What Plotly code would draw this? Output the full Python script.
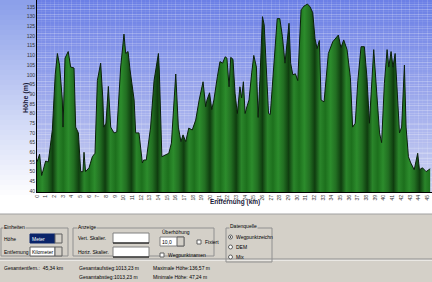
import plotly.graph_objects as go

# ---------------- data ----------------
dist_km = [0.0, 0.3, 0.54, 0.8, 1.0, 1.3, 1.77, 2.1, 2.35, 2.6, 2.92, 3.0, 3.23, 3.6, 3.88,
           4.27, 4.46, 4.77, 5.04, 5.3, 5.42, 5.6, 6.0, 6.38, 6.69, 6.96, 7.34, 7.6, 7.7,
           7.95, 8.23, 8.5, 8.88, 9.2, 9.65, 10.03, 10.23, 10.5, 10.73, 11.2, 11.38, 11.76,
           12.15, 12.3, 12.6, 13.1, 13.5, 14.0, 14.1, 14.4, 14.8, 15.2, 15.5, 16.0, 16.3,
           16.6, 16.84, 17.15, 17.5, 17.9, 18.3, 18.7, 19.15, 19.45, 19.6, 19.9, 20.15,
           20.4, 20.8, 21.1, 21.4, 21.7, 21.9, 22.15, 22.34, 22.6, 22.84, 23.1, 23.4, 23.6,
           23.8, 24.0, 24.2, 24.45, 24.76, 25.0, 25.3, 25.5, 25.7, 26.0, 26.2, 26.4, 26.7,
           26.9, 27.3, 27.7, 28.0, 28.3, 28.6, 29.06, 29.25, 29.5, 29.8, 30.07, 30.45, 30.8,
           31.2, 31.5, 31.8, 32.06, 32.3, 32.56, 32.76, 33.1, 33.6, 34.1, 34.75, 35.05,
           35.37, 35.75, 36.14, 36.4, 36.7, 37.0, 37.37, 37.75, 38.05, 38.33, 38.83, 39.1,
           39.5, 39.74, 40.06, 40.37, 40.57, 40.83, 41.05, 41.3, 41.5, 41.8, 42.05, 42.37,
           42.56, 42.83, 43.1, 43.5, 43.9, 44.1, 44.45, 44.87, 45.34]
elev_m = [55, 59, 48, 53, 55.5, 55, 71.5, 100, 111, 105, 87, 73, 108.6, 112, 104,
          103.5, 73, 70, 50, 50, 60, 50, 52, 57.7, 59.5, 97, 106, 87, 73,
          75, 94, 73, 70, 70.5, 104, 121, 111, 112, 102.5, 87, 70, 70,
          54.5, 56, 56, 73, 97, 111, 102.5, 57.7, 58.5, 59.5, 64.7, 100.4, 73,
          65.5, 69, 65.5, 72.5, 71.5, 76.6, 87, 96.4, 83.5, 87, 90.7, 82,
          87, 99, 106.8, 106, 109.3, 108.6, 93.8, 109, 108, 90.5, 80, 93.8, 88,
          96.4, 80, 83.5, 87, 101, 110, 104, 78, 97, 130, 125.7, 104, 80,
          79.5, 104, 129, 129, 119.7, 106, 126.6, 106, 100, 100.5, 97, 133.5, 135.5,
          136.5, 135, 132, 118.6, 113.5, 117.7, 87, 86, 111, 117, 120.5, 114,
          118, 113, 98.5, 73, 75, 97, 114.5, 114.5, 98.5, 75, 113, 95.6,
          70, 65, 95.6, 113, 104, 112, 104, 111, 94, 70, 73, 105,
          73, 57.7, 54.5, 51, 59.5, 51, 52, 50, 51.5]

y_ticks = list(range(40, 136, 5))
x_ticks = list(range(0, 46))
y_title = "Höhe (m)"
x_title = "Entfernung (km)"

W, H = 432, 282
L, T, B = 37, 0, 90
PW, PH = W - L, H - T - B


def px(x):
    return (x - L) / PW


def py(y):
    return (T + PH - y) / PH


fig = go.Figure()

# striped green fill
stripe = []
n = 75
cyc = ['#1d701d', '#2c8c2c', '#226f22', '#0f3d0f', '#2a852a']
for i in range(n + 1):
    stripe.append([i / n, cyc[i % len(cyc)]])

fig.add_trace(go.Scatter(
    x=dist_km, y=elev_m, mode='lines', fill='tozeroy',
    line=dict(color='#0a200a', width=1),
    fillcolor='#1f7a1f',
    fillgradient=dict(type='horizontal', colorscale=stripe),
    hoverinfo='skip', showlegend=False))

shapes = []
# plot background gradient
steps = 40
top = (108, 128, 230)
bot = (205, 210, 242)
for i in range(steps):
    f = i / (steps - 1)
    c = tuple(int(top[k] + (bot[k] - top[k]) * f) for k in range(3))
    shapes.append(dict(type='rect', xref='x domain', yref='y domain', layer='below',
                       x0=0, x1=1, y0=1 - i / steps, y1=1 - (i + 1) / steps,
                       line=dict(width=0), fillcolor='rgb(%d,%d,%d)' % c))
# left margin gradient
ltop = (140, 160, 234)
lbot = (255, 255, 255)
for i in range(steps):
    f = i / (steps - 1)
    c = tuple(int(ltop[k] + (lbot[k] - ltop[k]) * f) for k in range(3))
    y0p = i * 200 / steps
    y1p = (i + 1) * 200 / steps
    shapes.append(dict(type='rect', xref='paper', yref='paper', layer='below',
                       x0=px(0), x1=px(L), y0=py(y0p), y1=py(y1p),
                       line=dict(width=0), fillcolor='rgb(%d,%d,%d)' % c))

GRAY = '#d4d0c8'
# bottom panel
shapes.append(dict(type='rect', xref='paper', yref='paper', x0=px(0), x1=px(W), y0=py(214), y1=py(H),
                   line=dict(width=0), fillcolor=GRAY))
shapes.append(dict(type='line', xref='paper', yref='paper', x0=px(0), x1=px(W), y0=py(214), y1=py(214),
                   line=dict(color='#a0a0a0', width=1)))
shapes.append(dict(type='line', xref='paper', yref='paper', x0=px(0), x1=px(W), y0=py(260), y1=py(260),
                   line=dict(color='#ffffff', width=1)))
shapes.append(dict(type='line', xref='paper', yref='paper', x0=px(0), x1=px(W), y0=py(259), y1=py(259),
                   line=dict(color='#909090', width=1)))


def box(x0, y0, x1, y1, fill=None, color='#909090', w=1):
    shapes.append(dict(type='rect', xref='paper', yref='paper', x0=px(x0), x1=px(x1),
                       y0=py(y0), y1=py(y1), line=dict(color=color, width=w),
                       fillcolor=fill if fill else 'rgba(0,0,0,0)'))


# group boxes
box(1, 228, 68, 256)
box(73, 228, 214, 256)
box(226, 228, 272, 262)
# dropdowns
box(30, 234, 55, 243, fill='#0a246a', color='#0a246a')
box(55, 234, 62, 243, fill=GRAY, color='#606060')
box(30, 247, 55, 256, fill='#ffffff', color='#606060')
box(55, 247, 62, 256, fill=GRAY, color='#606060')
# text boxes
box(113, 233, 149, 243, fill='#ffffff', color='#808080')
box(113, 247, 149, 257, fill='#ffffff', color='#808080')
shapes.append(dict(type='line', xref='paper', yref='paper', x0=px(113), x1=px(149), y0=py(243), y1=py(243),
                   line=dict(color='#000000', width=1)))
shapes.append(dict(type='line', xref='paper', yref='paper', x0=px(113), x1=px(149), y0=py(257), y1=py(257),
                   line=dict(color='#000000', width=1)))
# spin box
box(160, 237, 184, 246, fill='#ffffff', color='#808080')
box(177, 237, 184, 246, fill=GRAY, color='#606060')
# checkboxes
box(197, 240, 201, 244, fill='#ffffff', color='#606060')
box(160, 253, 164, 257, fill='#ffffff', color='#606060')
# radio buttons
for ry in (237, 247, 257):
    shapes.append(dict(type='circle', xref='paper', yref='paper', x0=px(228.5), x1=px(232.5),
                       y0=py(ry - 2), y1=py(ry + 2), line=dict(color='#606060', width=1),
                       fillcolor='#ffffff'))
shapes.append(dict(type='circle', xref='paper', yref='paper', x0=px(229.8), x1=px(231.2),
                   y0=py(236.3), y1=py(237.7), line=dict(width=0), fillcolor='#000000'))

ann = []


def text(x, y, s, size=5, color='#000000', bg=None, bold=False, anchor='left'):
    ann.append(dict(xref='paper', yref='paper', x=px(x), y=py(y), text=('<b>%s</b>' % s) if bold else s,
                    showarrow=False, xanchor=anchor, yanchor='middle',
                    font=dict(family='Liberation Sans, Arial', size=size, color=color),
                    bgcolor=bg, borderpad=0))


text(3, 227, 'Einheiten', bg=GRAY)
text(3, 238.5, 'Höhe')
text(31, 238.5, 'Meter', color='#ffffff')
text(3, 251.5, 'Entfernung')
text(31, 251.5, 'Kilometer')
text(77, 227, 'Anzeige', bg=GRAY)
text(77, 238, 'Vert. Skalier.')
text(77, 252, 'Horiz. Skalier.')
text(161, 232, 'Überhöhung')
text(161, 241.5, '10,0')
text(204, 242, 'Fixiert')
text(167, 255, 'Wegpunktnamen')
text(229, 226, 'Datenquelle', bg=GRAY)
text(235, 237, 'Wegpunktzeichn')
text(235, 247, 'DEM')
text(235, 257, 'Mix')
text(3, 268, 'Gesamtentfern.:  45,34 km')
text(78, 268, 'Gesamtaufstieg:1013,23 m')
text(78, 277, 'Gesamtabstieg:1013,23 m')
text(152, 268, 'Maximale Höhe:136,57 m')
text(152, 277, 'Minimale Höhe: 47,24 m')
# axis titles
ann.append(dict(xref='paper', yref='paper', x=px(20), y=py(98), text='<b>%s</b>' % y_title, textangle=-90,
                showarrow=False, font=dict(family='Liberation Sans, Arial', size=7, color='#1a1a3a')))
ann.append(dict(xref='paper', yref='paper', x=px(235), y=py(208), text='<b>%s</b>' % x_title,
                showarrow=False, font=dict(family='Liberation Sans, Arial', size=6.5, color='#1a1a3a')))

fig.update_layout(
    width=W, height=H, margin=dict(l=L, r=0, t=T, b=B),
    paper_bgcolor='#ffffff', plot_bgcolor='rgba(0,0,0,0)',
    shapes=shapes, annotations=ann, showlegend=False,
    xaxis=dict(range=[0, 45.55], tickvals=x_ticks, ticktext=[str(v) for v in x_ticks], tickangle=-90,
               tickfont=dict(family='Liberation Sans, Arial', size=5, color='#333333'),
               showgrid=True, gridcolor='rgba(255,255,255,0.10)', gridwidth=1,
               minor=dict(dtick=0.5, showgrid=True, gridcolor='rgba(255,255,255,0.06)'),
               showline=True, linecolor='#000000', linewidth=1, ticks='', zeroline=False),
    yaxis=dict(range=[39.5, 138.6], tickvals=y_ticks, ticktext=[str(v) for v in y_ticks],
               tickfont=dict(family='Liberation Sans, Arial', size=5, color='#333333'),
               showgrid=True, gridcolor='rgba(255,255,255,0.10)', gridwidth=1,
               minor=dict(dtick=2.5, showgrid=True, gridcolor='rgba(255,255,255,0.06)'),
               showline=True, linecolor='#000000', linewidth=1, ticks='', zeroline=False),
)

fig.write_html("out.html")
